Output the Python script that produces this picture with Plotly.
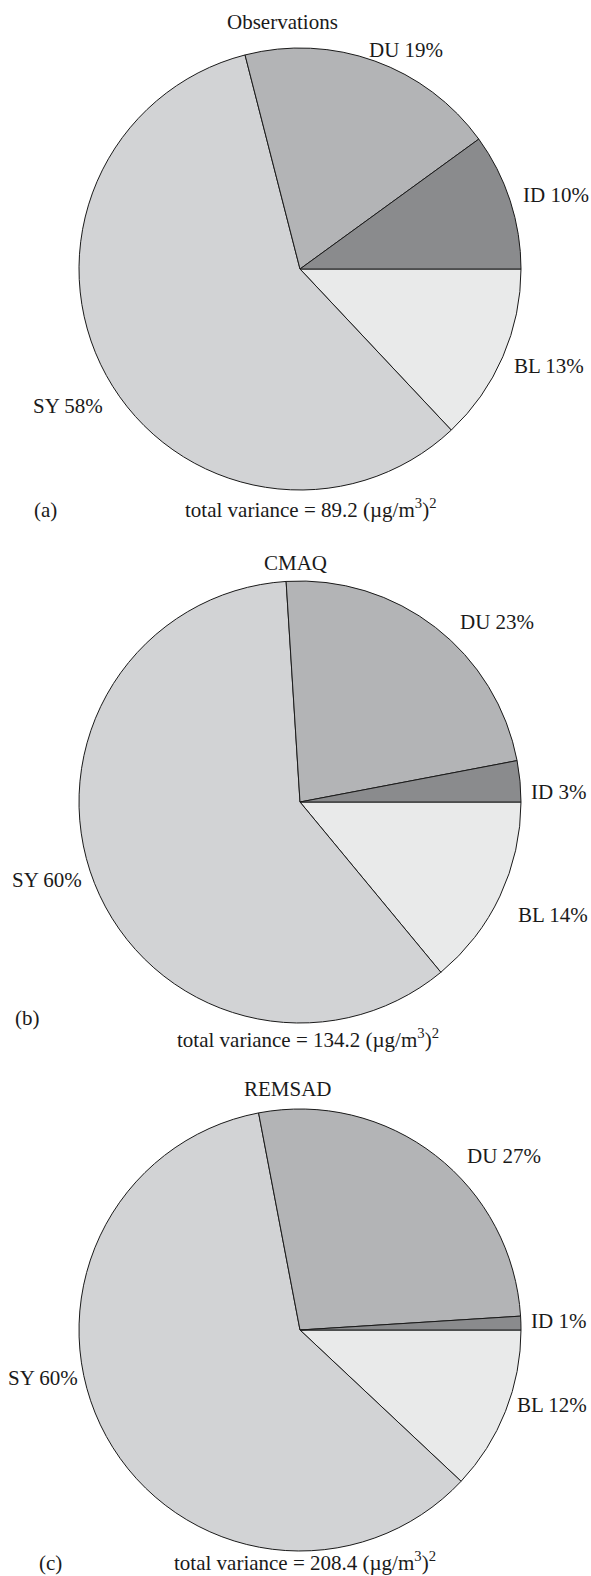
import plotly.graph_objects as go

# Variance apportionment (%) of each source factor, per dataset
categories = ["ID", "DU", "SY", "BL"]
obs_pct = [10, 19, 58, 13]
cmaq_pct = [3, 23, 60, 14]
remsad_pct = [1, 27, 60, 12]

panel_titles = ["Observations", "CMAQ", "REMSAD"]
panel_tags = ["(a)", "(b)", "(c)"]
total_variance = [89.2, 134.2, 208.4]

W, H = 591, 1576
FONT = "Liberation Serif, Times New Roman, serif"
FS = 21

slice_colors = {"ID": "#8a8b8d", "DU": "#b3b4b6", "SY": "#d2d3d5", "BL": "#e9eaea"}

# panel geometry (pixels)
CX, R = 300, 221
centers_y = [269, 802, 1330]

# label anchors relative to each pie centre: (dx, dy, xanchor)
label_offsets = [
    {"ID": (221, -74, "left"), "DU": (67, -219, "left"),
     "SY": (-195, 137, "right"), "BL": (212, 97, "left")},
    {"ID": (229, -10, "left"), "DU": (158, -180, "left"),
     "SY": (-216, 78, "right"), "BL": (216, 113, "left")},
    {"ID": (229, -9, "left"), "DU": (165, -174, "left"),
     "SY": (-220, 48, "right"), "BL": (215, 75, "left")},
]
title_pos = [(282, 22), (295, 563), (288, 1089)]
tag_pos = [(32, 510), (13, 1018), (37, 1563)]
variance_pos = [(311, 508), (308, 1038), (305, 1561)]


def px(x):
    return x / W


def py(y):
    return 1 - y / H


fig = go.Figure()
annotations = []

for k, pct in enumerate([obs_pct, cmaq_pct, remsad_pct]):
    cy = centers_y[k]
    # slices run clockwise from 3 o'clock: BL, SY, DU, ID
    order = list(reversed(range(len(categories))))
    fig.add_trace(go.Pie(
        labels=[categories[i] for i in order],
        values=[pct[i] for i in order],
        marker=dict(colors=[slice_colors[categories[i]] for i in order],
                    line=dict(color="#1a1a1a", width=1)),
        sort=False,
        direction="clockwise",
        rotation=90,
        textinfo="none",
        hoverinfo="label+percent",
        showlegend=False,
        domain=dict(x=[px(CX - R), px(CX + R)],
                    y=[py(cy + R), py(cy - R)]),
    ))

    for i, cat in enumerate(categories):
        dx, dy, anchor = label_offsets[k][cat]
        annotations.append(dict(
            x=px(CX + dx), y=py(cy + dy), xref="paper", yref="paper",
            text=f"{cat} {pct[i]}%", showarrow=False,
            xanchor=anchor, yanchor="middle",
            font=dict(family=FONT, size=FS, color="#1a1a1a"),
        ))

    tx, ty = title_pos[k]
    annotations.append(dict(
        x=px(tx), y=py(ty), xref="paper", yref="paper",
        text=panel_titles[k], showarrow=False,
        xanchor="center", yanchor="middle",
        font=dict(family=FONT, size=FS, color="#1a1a1a"),
    ))
    gx, gy = tag_pos[k]
    annotations.append(dict(
        x=px(gx), y=py(gy), xref="paper", yref="paper",
        text=panel_tags[k], showarrow=False,
        xanchor="left", yanchor="middle",
        font=dict(family=FONT, size=FS, color="#1a1a1a"),
    ))
    vx, vy = variance_pos[k]
    annotations.append(dict(
        x=px(vx), y=py(vy), xref="paper", yref="paper",
        text=f"total variance = {total_variance[k]} (µg/m<sup>3</sup>)<sup>2</sup>",
        showarrow=False, xanchor="center", yanchor="middle",
        font=dict(family=FONT, size=FS, color="#1a1a1a"),
    ))

fig.update_layout(
    width=W, height=H,
    margin=dict(l=0, r=0, t=0, b=0),
    paper_bgcolor="white",
    plot_bgcolor="white",
    annotations=annotations,
)

fig.write_html("out.html")
